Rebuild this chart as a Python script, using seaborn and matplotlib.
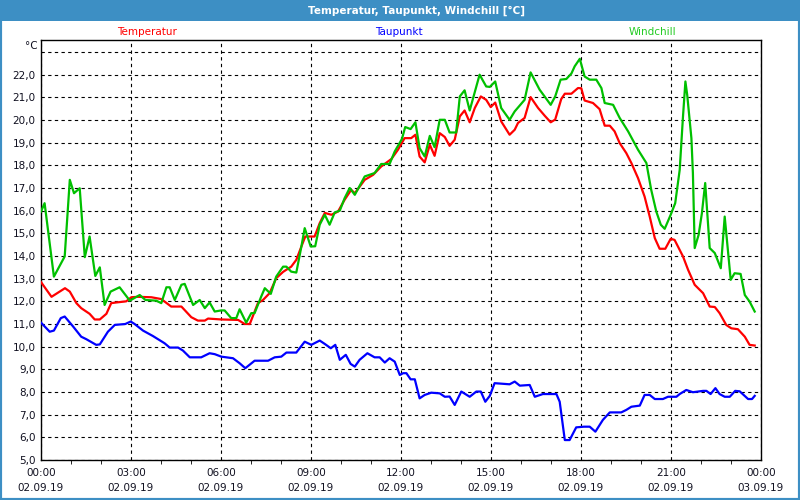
import matplotlib
matplotlib.use("Agg")
import matplotlib.pyplot as plt
from matplotlib.patches import Rectangle
import pandas as pd
import seaborn as sns

# ---- data (hours since 02.09.19 00:00, °C) ----
temp_hours = [0, 0.35, 0.8, 0.96, 1.18, 1.34, 1.62, 1.79, 1.96, 2.18,
              2.34, 2.51, 2.84, 3.01, 3.23, 3.68, 4.01, 4.34, 4.68, 5.01,
              5.23, 5.46, 5.57, 6.01, 6.57, 6.79, 6.96, 7.23, 7.4, 7.62,
              7.84, 8.07, 8.34, 8.51, 8.68, 8.81, 9.12, 9.29, 9.46, 9.68,
              9.9, 10.12, 10.34, 10.46, 10.79, 11.07, 11.34, 11.68, 11.9, 12.12,
              12.34, 12.48, 12.62, 12.79, 12.96, 13.12, 13.29, 13.46, 13.62, 13.79,
              13.96, 14.12, 14.29, 14.46, 14.66, 14.84, 14.99, 15.14, 15.34, 15.62,
              15.79, 15.9, 16.12, 16.32, 16.57, 16.79, 16.99, 17.14, 17.34, 17.46,
              17.68, 17.9, 18.01, 18.12, 18.4, 18.62, 18.79, 18.96, 19.12, 19.29,
              19.51, 19.68, 19.9, 20.12, 20.29, 20.46, 20.62, 20.81, 20.99, 21.12,
              21.4, 21.57, 21.79, 22.07, 22.29, 22.46, 22.62, 22.84, 23.01, 23.23,
              23.46, 23.62, 23.79]
temp_values = [12.85, 12.2, 12.58, 12.43, 11.92, 11.7, 11.45, 11.2, 11.2, 11.45,
               11.92, 11.95, 12.0, 12.18, 12.2, 12.18, 12.1, 11.77, 11.77, 11.3,
               11.15, 11.15, 11.24, 11.2, 11.18, 11.0, 11.0, 11.92, 12.06, 12.36,
               13.02, 13.3, 13.53, 13.83, 14.42, 14.86, 14.86, 15.45, 15.9, 15.82,
               15.96, 16.48, 16.92, 16.77, 17.36, 17.58, 17.95, 18.28, 18.69, 19.2,
               19.2, 19.35, 18.39, 18.13, 18.91, 18.42, 19.42, 19.25, 18.86, 19.13,
               20.16, 20.42, 19.9, 20.53, 21.04, 20.89, 20.57, 20.77, 19.94, 19.35,
               19.57, 19.87, 20.09, 21.01, 20.53, 20.19, 19.9, 20.02, 20.92, 21.16,
               21.16, 21.41, 21.4, 20.86, 20.75, 20.48, 19.75, 19.75, 19.5, 18.98,
               18.54, 18.1, 17.44, 16.62, 15.74, 14.79, 14.32, 14.32, 14.76, 14.71,
               13.98, 13.39, 12.73, 12.36, 11.77, 11.75, 11.48, 10.96, 10.81, 10.77,
               10.44, 10.08, 10.05]

wind_hours = [0, 0.12, 0.43, 0.79, 0.96, 1.1, 1.29, 1.46, 1.62, 1.81,
              1.96, 2.12, 2.32, 2.62, 2.96, 3.29, 3.48, 3.84, 4.01, 4.18,
              4.29, 4.46, 4.68, 4.79, 5.07, 5.29, 5.46, 5.62, 5.79, 6.01,
              6.12, 6.34, 6.51, 6.62, 6.84, 7.01, 7.12, 7.34, 7.46, 7.66,
              7.84, 8.07, 8.18, 8.34, 8.51, 8.68, 8.79, 8.99, 9.14, 9.29,
              9.46, 9.62, 9.79, 9.96, 10.12, 10.29, 10.46, 10.79, 11.12, 11.34,
              11.62, 11.79, 12.03, 12.14, 12.32, 12.48, 12.62, 12.79, 12.96, 13.12,
              13.29, 13.46, 13.62, 13.84, 13.96, 14.12, 14.29, 14.62, 14.84, 14.96,
              15.14, 15.34, 15.62, 15.79, 16.12, 16.32, 16.62, 16.99, 17.14, 17.32,
              17.51, 17.68, 17.79, 17.96, 18.12, 18.29, 18.51, 18.68, 18.79, 19.07,
              19.29, 19.57, 19.9, 20.18, 20.34, 20.51, 20.66, 20.79, 20.99, 21.14,
              21.29, 21.4, 21.48, 21.54, 21.68, 21.73, 21.79, 21.92, 22.03, 22.14,
              22.29, 22.46, 22.66, 22.79, 22.99, 23.12, 23.32, 23.46, 23.62, 23.79]
wind_values = [15.96, 16.33, 13.09, 13.98, 17.36, 16.77, 16.99, 13.95, 14.86, 13.12,
               13.5, 11.84, 12.43, 12.62, 12.03, 12.28, 12.06, 12.03, 11.92, 12.62,
               12.62, 12.06, 12.73, 12.77, 11.84, 12.06, 11.7, 11.95, 11.55, 11.6,
               11.6, 11.26, 11.26, 11.65, 11.06, 11.48, 11.48, 12.21, 12.58, 12.33,
               13.09, 13.53, 13.53, 13.31, 13.27, 14.42, 15.23, 14.42, 14.43, 15.38,
               15.82, 15.38, 15.92, 16.0, 16.55, 17.0, 16.7, 17.51, 17.66, 18.06,
               18.06, 18.61, 19.16, 19.69, 19.6, 19.9, 18.76, 18.39, 19.3, 18.8,
               20.01, 20.01, 19.45, 19.45, 21.04, 21.31, 20.42, 22.0, 21.48, 21.46,
               21.7, 20.53, 20.01, 20.38, 20.89, 22.1, 21.34, 20.67, 21.04, 21.78,
               21.81, 22.05, 22.37, 22.7, 21.92, 21.78, 21.78, 21.41, 20.75, 20.67,
               20.09, 19.5, 18.69, 18.1, 16.92, 15.96, 15.38, 15.2, 15.82, 16.33,
               17.8, 20.16, 21.7, 21.11, 19.2, 17.66, 14.35, 14.93, 15.89, 17.22,
               14.35, 14.13, 13.46, 15.74, 12.95, 13.24, 13.21, 12.28, 11.99, 11.55]

dew_hours = [0, 0.29, 0.43, 0.66, 0.79, 1.07, 1.34, 1.51, 1.84, 1.96,
             2.23, 2.46, 2.81, 2.99, 3.12, 3.4, 3.73, 4.12, 4.29, 4.57,
             4.73, 4.96, 5.34, 5.62, 5.79, 6.01, 6.4, 6.62, 6.81, 7.12,
             7.57, 7.79, 8.01, 8.18, 8.51, 8.79, 9.01, 9.29, 9.46, 9.66,
             9.81, 9.96, 10.16, 10.32, 10.46, 10.62, 10.88, 11.12, 11.29, 11.46,
             11.62, 11.79, 11.96, 12.07, 12.18, 12.32, 12.46, 12.62, 12.79, 13.01,
             13.29, 13.46, 13.62, 13.79, 14.01, 14.29, 14.51, 14.66, 14.81, 14.96,
             15.12, 15.62, 15.79, 15.96, 16.29, 16.46, 16.73, 17.18, 17.29, 17.46,
             17.62, 17.84, 18.1, 18.29, 18.48, 18.73, 18.96, 19.34, 19.51, 19.68,
             19.96, 20.12, 20.29, 20.46, 20.73, 20.9, 21.18, 21.29, 21.51, 21.73,
             22.07, 22.18, 22.32, 22.48, 22.62, 22.79, 22.96, 23.14, 23.29, 23.57,
             23.7, 23.79]
dew_values = [11.06, 10.66, 10.71, 11.26, 11.33, 10.89, 10.44, 10.33, 10.08, 10.1,
              10.66, 10.96, 11.0, 11.11, 11.0, 10.71, 10.47, 10.15, 9.96, 9.96,
              9.83, 9.53, 9.53, 9.71, 9.67, 9.56, 9.49, 9.27, 9.05, 9.38,
              9.38, 9.53, 9.56, 9.74, 9.74, 10.22, 10.08, 10.27, 10.12, 9.93,
              10.08, 9.42, 9.64, 9.24, 9.12, 9.42, 9.71, 9.53, 9.53, 9.3,
              9.49, 9.34, 8.75, 8.83, 8.83, 8.56, 8.56, 7.72, 7.87, 7.97,
              7.94, 7.79, 7.8, 7.43, 8.02, 7.79, 8.02, 8.02, 7.57, 7.83,
              8.39, 8.34, 8.46, 8.28, 8.31, 7.79, 7.91, 7.91, 7.57, 5.88,
              5.88, 6.44, 6.47, 6.47, 6.25, 6.77, 7.1, 7.1, 7.21, 7.35,
              7.4, 7.87, 7.87, 7.69, 7.69, 7.79, 7.79, 7.91, 8.09, 7.99,
              8.05, 8.05, 7.91, 8.17, 7.91, 7.79, 7.79, 8.05, 8.03, 7.69,
              7.69, 7.83]

x_tick_hours = [0, 3, 6, 9, 12, 15, 18, 21, 24]
x_tick_labels = ["00:00\n02.09.19", "03:00\n02.09.19", "06:00\n02.09.19",
                 "09:00\n02.09.19", "12:00\n02.09.19", "15:00\n02.09.19",
                 "18:00\n02.09.19", "21:00\n02.09.19", "00:00\n03.09.19"]
y_ticks = list(range(5, 24))
y_tick_labels = [f"{v},0" for v in range(5, 23)] + [""]

title = "Temperatur, Taupunkt, Windchill [°C]"
series_names = ["Temperatur", "Taupunkt", "Windchill"]
line_colors = ["#ff0000", "#0000ff", "#00c000"]
text_colors = ["#ff0000", "#0000ff", "#22cc22"]

# ---- figure ----
plt.rcParams['font.family'] = ['DejaVu Sans']
fig = plt.figure(figsize=(8, 5), dpi=100, facecolor="white")
frame_blue = "#3d8fc4"
fig.patches.append(Rectangle((0, 1 - 21 / 500), 1, 21 / 500, transform=fig.transFigure,
                             facecolor=frame_blue, edgecolor="none", zorder=0))
fig.patches.append(Rectangle((0, 0), 1, 1, transform=fig.transFigure, fill=False,
                             edgecolor=frame_blue, linewidth=3, zorder=0))
fig.text(0.52, 1 - 10.5 / 500, title, color="white", fontsize=7.5, fontweight="bold",
         ha="center", va="center")

ax = fig.add_axes([41 / 800, 40 / 500, 720 / 800, 420 / 500])

df_t = pd.DataFrame({"h": temp_hours, "v": temp_values})
df_d = pd.DataFrame({"h": dew_hours, "v": dew_values})
df_w = pd.DataFrame({"h": wind_hours, "v": wind_values})
for df, c in zip([df_t, df_d, df_w], line_colors):
    sns.lineplot(data=df, x="h", y="v", ax=ax, color=c, linewidth=1.6,
                 estimator=None, sort=False, zorder=3)

ax.set_xlim(0, 24)
ax.set_ylim(5, 23.53)
ax.set_xlabel("")
ax.set_ylabel("")
ax.set_xticks(x_tick_hours)
ax.set_xticklabels(x_tick_labels, linespacing=1.55)
ax.set_xticks(list(range(25)), minor=True)
ax.set_yticks(y_ticks)
ax.set_yticklabels(y_tick_labels)
ax.tick_params(axis="x", which="major", length=0, pad=6, labelsize=7.5, labelcolor="#101020")
ax.tick_params(axis="x", which="minor", length=3, direction="out", color="black")
ax.tick_params(axis="y", length=0, pad=4, labelsize=7.5, labelcolor="#101020")
ax.grid(True, which="major", color="black", linestyle=(0, (3, 3)), linewidth=0.8)
for s in ax.spines.values():
    s.set_color("black")
    s.set_linewidth(1.0)

fig.text(31 / 800, 1 - 46 / 500, "°C", fontsize=7.5, color="#101020", ha="center", va="center")
for name, c, xc in zip(series_names, text_colors, [147, 399, 652]):
    fig.text(xc / 800, 1 - 32 / 500, name, color=c, fontsize=7.5, ha="center", va="center")

fig.savefig("out.png", dpi=100, facecolor="white")
